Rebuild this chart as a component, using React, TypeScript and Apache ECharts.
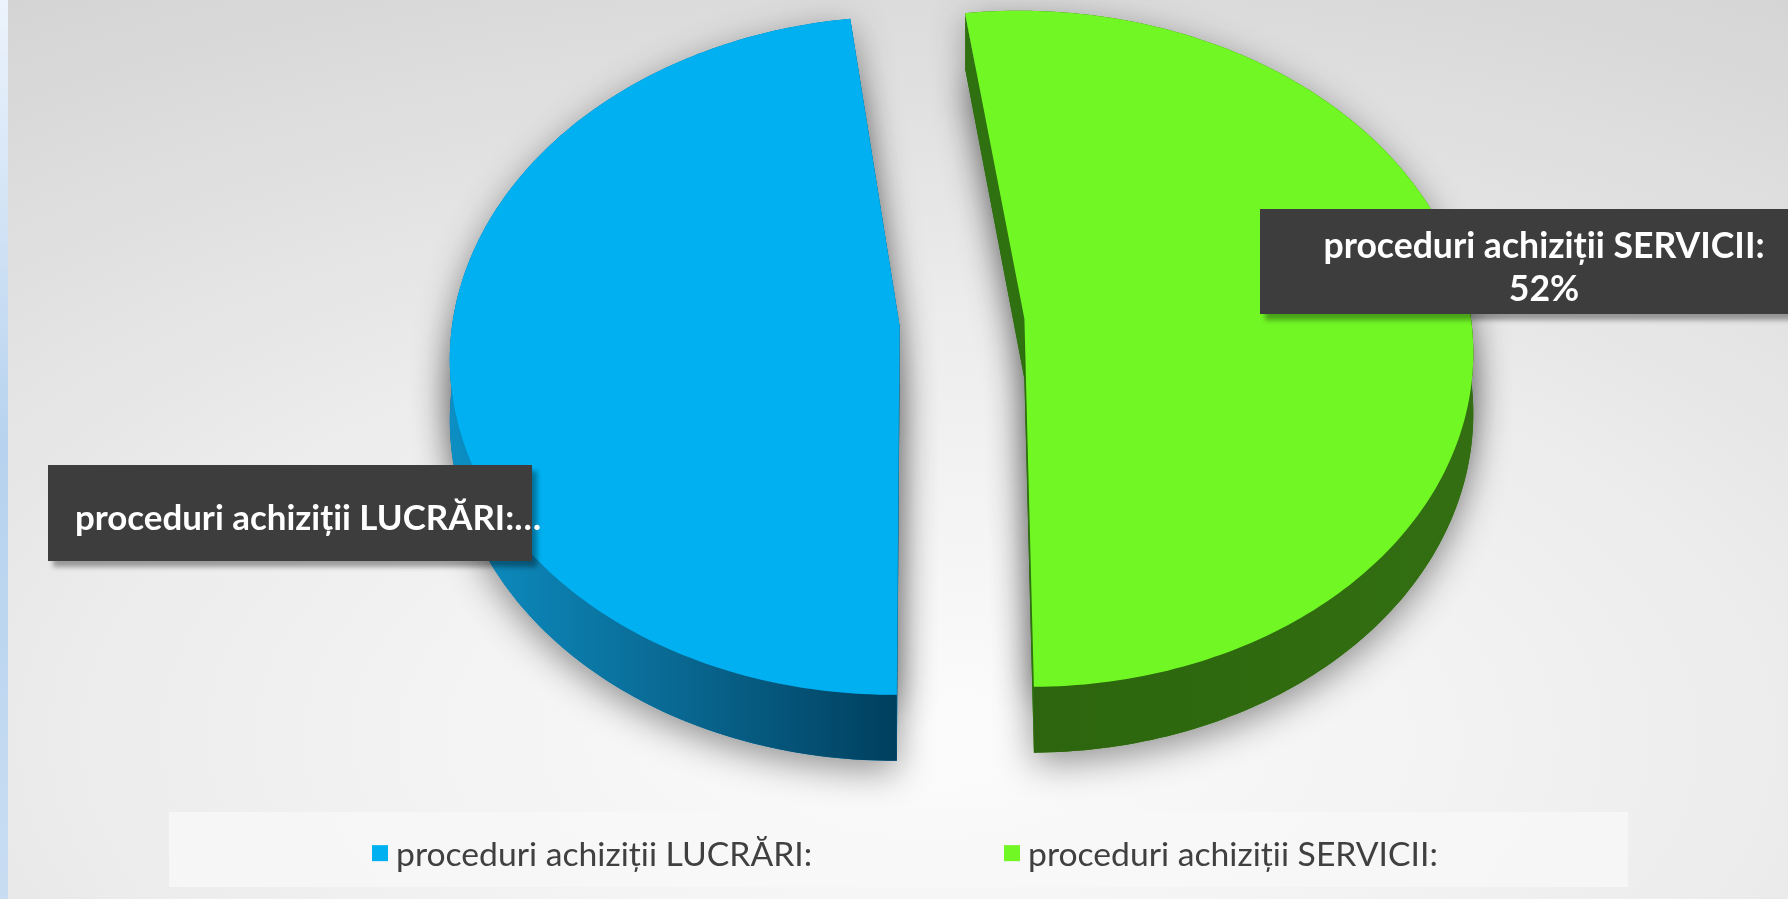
import React, { useEffect, useRef } from "react";
import * as echarts from "echarts";

// ---- data ----
const categories = ["proceduri achiziții LUCRĂRI:", "proceduri achiziții SERVICII:"];
const values = [48, 52];
const labelTexts = ["proceduri achiziții LUCRĂRI:…", "proceduri achiziții SERVICII:\n52%"];

// ---- styling ----
const topColors = ["#00b0f0", "#70f724"];
const W = 1788;
const H = 899;
const CX = 962;
const CY = 322;
const RX = 447;
const RY = 336;
const PERSP = 0.089;
const DEPTH = 60;
const EXPLODE = 0.14;
const START = 179.6;
const FONT = "Lato";

function sliceAngles(): number[][] {
  const total = values.reduce((a, b) => a + b, 0);
  let acc = START;
  return values.map((v) => {
    const a0 = acc;
    const a1 = acc + (v / total) * 360;
    acc = a1;
    return [a0, a1];
  });
}

function measure(text: string, font: string): number {
  const c = document.createElement("canvas").getContext("2d");
  if (!c) return text.length * 14;
  c.font = font;
  return c.measureText(text).width;
}

function fitSize(text: string, target: number, weight: string): number {
  const base = 40;
  const w = measure(text, `${weight} ${base}px ${FONT}`);
  return Math.round(((base * target) / w) * 10) / 10;
}

export default function App() {
  const ref = useRef<HTMLDivElement>(null);
  useEffect(() => {
    if (!ref.current) return;
    const chart = echarts.init(ref.current, undefined, { renderer: "svg" });
    const angles = sliceAngles();

    const sideFill = (i: number) =>
      i === 0
        ? new echarts.graphic.LinearGradient(0, 0, 1, 0, [
            { offset: 0, color: "#0c8fc4" },
            { offset: 0.45, color: "#0a6d98" },
            { offset: 1, color: "#003f5e" },
          ])
        : new echarts.graphic.LinearGradient(0, 0, 1, 0, [
            { offset: 0, color: "#2c650d" },
            { offset: 1, color: "#336f12" },
          ]);
    const faceFill = ["#0a6d98", "#2f7010"];

    const proj = (X: number, Y: number, dz: number) => {
      const f = 1 / (1 - PERSP * Y);
      return [CX + RX * X * f, CY + RY * Y * f + dz * DEPTH * f];
    };

    const makeRender = (i: number) => (params: any, api: any) => {
      const [a0, a1] = angles[i];
      const mid = (((a0 + a1) / 2) * Math.PI) / 180;
      const ex = EXPLODE * Math.sin(mid);
      const ey = -EXPLODE * Math.cos(mid);
      const P = (a: number, dz = 0) => {
        const r = (a * Math.PI) / 180;
        return proj(ex + Math.sin(r), ey - Math.cos(r), dz);
      };
      const C = (dz = 0) => proj(ex, ey, dz);
      const arc = (b0: number, b1: number, dz = 0) => {
        const n = Math.max(2, Math.ceil(Math.abs(b1 - b0)));
        const pts: number[][] = [];
        for (let k = 0; k <= n; k++) pts.push(P(b0 + ((b1 - b0) * k) / n, dz));
        return pts;
      };
      const topPts = (dz = 0) => [C(dz), ...arc(a0, a1, dz)];
      const children: any[] = [];
      [1, 0].forEach((dz) =>
        children.push({
          type: "polygon",
          shape: { points: topPts(dz) },
          style: {
            fill: faceFill[i],
            shadowBlur: 36,
            shadowColor: "rgba(0,0,0,0.42)",
            shadowOffsetY: 10,
            shadowOffsetX: 0,
          },
        })
      );
      [-1, 0, 1].forEach((k) => {
        const s0 = Math.max(a0, 85 + 360 * k);
        const s1 = Math.min(a1, 275 + 360 * k);
        if (s1 > s0) {
          const pts = [...arc(s0, s1), ...arc(s0, s1, 1).reverse()];
          children.push({ type: "polygon", shape: { points: pts }, style: { fill: sideFill(i) } });
        }
      });
      [a0, a1].forEach((a) => {
        children.push({
          type: "polygon",
          shape: { points: [C(0), P(a), P(a, 1), C(1)] },
          style: { fill: faceFill[i] },
        });
      });
      children.push({ type: "polygon", shape: { points: topPts(0) }, style: { fill: api.visual("color") } });
      return { type: "group", children };
    };

    const legendSize = fitSize(categories[0], 416, "normal");
    const w1 = measure(categories[0], `normal ${legendSize}px ${FONT}`);
    const gap = 999 - (367 + 16 + 8 + w1);
    const labelSizeA = fitSize(labelTexts[0], 466, "bold");
    const labelSizeB = fitSize("proceduri achiziții SERVICII:", 442, "bold");

    const labelBox = (
      x: number,
      y: number,
      w: number,
      h: number,
      text: string,
      tx: number,
      ty: number,
      size: number
    ) => ({
      type: "group",
      z: 100,
      children: [
        {
          type: "rect",
          shape: { x, y, width: w, height: h },
          style: {
            fill: "#3d3d3d",
            shadowBlur: 5,
            shadowOffsetX: 5,
            shadowOffsetY: 6,
            shadowColor: "rgba(0,0,0,0.35)",
          },
          z: 100,
        },
        {
          type: "text",
          x: tx,
          y: ty,
          z: 101,
          style: {
            text,
            fill: "#ffffff",
            fontFamily: FONT,
            fontWeight: "bold",
            fontSize: size,
            lineHeight: 43,
            align: "center",
            verticalAlign: "middle",
          },
        },
      ],
    });

    chart.setOption({
      animation: false,
      legend: {
        data: categories,
        left: 367,
        top: 849 - legendSize / 2 - 1,
        icon: "rect",
        itemWidth: 16,
        itemHeight: 16,
        itemGap: gap,
        textStyle: {
          fontFamily: FONT,
          fontSize: legendSize,
          color: "#404040",
          padding: [0, 0, 0, 3],
        },
        z: 50,
      },
      graphic: [
        {
          type: "rect",
          z: -100,
          shape: { x: 0, y: 0, width: W, height: H },
          style: {
            fill: new echarts.graphic.RadialGradient(0.52, 0.82, 1.3, [
              { offset: 0, color: "#fcfcfc" },
              { offset: 0.35, color: "#ededed" },
              { offset: 1, color: "#c4c4c4" },
            ]),
          },
        },
        {
          type: "rect",
          z: -99,
          shape: { x: 0, y: 0, width: 8, height: H },
          style: {
            fill: new echarts.graphic.LinearGradient(0, 0, 0, 1, [
              { offset: 0, color: "#ecf3fc" },
              { offset: 0.5, color: "#b6d2ee" },
              { offset: 1, color: "#c8ddf2" },
            ]),
          },
        },
        {
          type: "rect",
          z: -98,
          shape: { x: 169, y: 812, width: 1459, height: 75 },
          style: { fill: "rgba(248,248,248,0.75)" },
        },
        labelBox(48, 465, 484, 96, labelTexts[0], 308, 516, labelSizeA),
        labelBox(1260, 209, 540, 105, labelTexts[1], 1544, 266, labelSizeB),
      ],
      series: categories.map((name, i) => ({
        type: "custom",
        name,
        coordinateSystem: "none",
        itemStyle: { color: topColors[i] },
        data: [values[i]],
        renderItem: makeRender(i),
        silent: true,
        z: 2,
      })),
    });
    return () => chart.dispose();
  }, []);
  return <div ref={ref} style={{ position: "fixed", left: 0, top: 0, width: W, height: H }} />;
}
